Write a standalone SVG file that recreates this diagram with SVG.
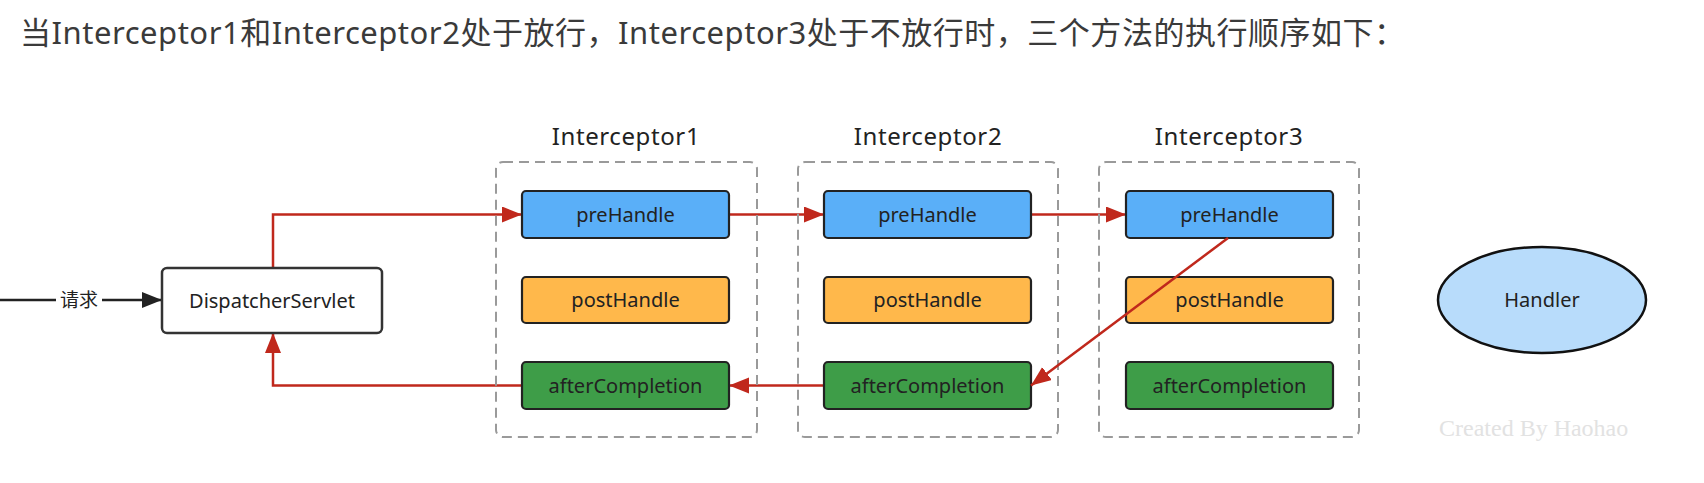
<svg xmlns="http://www.w3.org/2000/svg" width="1704" height="483" viewBox="0 0 1704 483">
  <style>
    .title { font-family: "Noto Sans", "Noto Sans CJK SC", sans-serif; font-size: 31px; fill: #3a3a3a; }
    .lbl { font-family: "Noto Sans", "Noto Sans CJK SC", sans-serif; font-size: 20px; fill: #222; text-anchor: middle; }
    .grp { font-family: "Noto Sans", sans-serif; font-size: 24px; fill: #222; text-anchor: middle; letter-spacing: 0.6px; }
    .dash { fill: none; stroke: #9a9a9a; stroke-width: 2; stroke-dasharray: 10 6; }
    .box { stroke: #222; stroke-width: 2.2; }
    .pre { fill: #5aaff8; }
    .post { fill: #ffb84b; }
    .after { fill: #3e9d48; }
    .red { fill: none; stroke: #c0281c; stroke-width: 2.5; marker-end: url(#ar); }
    .blk { fill: none; stroke: #222; stroke-width: 2.5; marker-end: url(#ab); }
  </style>
  <defs>
    <marker id="ar" markerUnits="userSpaceOnUse" markerWidth="22" markerHeight="18" refX="20" refY="8" orient="auto">
      <path d="M0,0 L20,8 L0,16 Z" fill="#c0281c"/>
    </marker>
    <marker id="ab" markerUnits="userSpaceOnUse" markerWidth="22" markerHeight="18" refX="20" refY="8" orient="auto">
      <path d="M0,0 L20,8 L0,16 Z" fill="#222"/>
    </marker>
  </defs>
  <rect width="1704" height="483" fill="#fff"/>

  <text class="title" x="20" y="44" textLength="1385" lengthAdjust="spacing">当Interceptor1和Interceptor2处于放行，Interceptor3处于不放行时，三个方法的执行顺序如下：</text>

  <g id="connectors">
    <path class="blk" d="M0,300 L162,300"/>
    <rect x="56" y="288" width="46" height="24" fill="#fff"/>
    <text class="lbl" x="79" y="307" style="font-size:19px">请求</text>
    <path class="red" d="M273,268 L273,214.5 L522,214.5"/>
    <path class="red" d="M729,214.5 L824,214.5"/>
    <path class="red" d="M1031,214.5 L1126,214.5"/>
    <path class="red" d="M824,385.5 L729,385.5"/>
    <path class="red" d="M522,385.5 L273,385.5 L273,333"/>
  </g>

  <g id="dispatcher">
    <rect x="162" y="268" width="220" height="65" rx="5" fill="#fff" stroke="#333" stroke-width="2.5"/>
    <text class="lbl" x="272" y="308">DispatcherServlet</text>
  </g>

  <g id="interceptor1">
    <text class="grp" x="626" y="145">Interceptor1</text>
    <rect class="dash" x="496" y="162" width="261" height="275" rx="7"/>
    <rect class="box pre" x="522" y="191" width="207" height="47" rx="4"/>
    <text class="lbl" x="625.5" y="221.5">preHandle</text>
    <rect class="box post" x="522" y="277" width="207" height="46" rx="4"/>
    <text class="lbl" x="625.5" y="307">postHandle</text>
    <rect class="box after" x="522" y="362" width="207" height="47" rx="4"/>
    <text class="lbl" x="625.5" y="392.5">afterCompletion</text>
  </g>

  <g id="interceptor2">
    <text class="grp" x="928" y="145">Interceptor2</text>
    <rect class="dash" x="798" y="162" width="260" height="275" rx="7"/>
    <rect class="box pre" x="824" y="191" width="207" height="47" rx="4"/>
    <text class="lbl" x="927.5" y="221.5">preHandle</text>
    <rect class="box post" x="824" y="277" width="207" height="46" rx="4"/>
    <text class="lbl" x="927.5" y="307">postHandle</text>
    <rect class="box after" x="824" y="362" width="207" height="47" rx="4"/>
    <text class="lbl" x="927.5" y="392.5">afterCompletion</text>
  </g>

  <g id="interceptor3">
    <text class="grp" x="1229" y="145">Interceptor3</text>
    <rect class="dash" x="1099" y="162" width="260" height="275" rx="7"/>
    <rect class="box pre" x="1126" y="191" width="207" height="47" rx="4"/>
    <text class="lbl" x="1229.5" y="221.5">preHandle</text>
    <rect class="box post" x="1126" y="277" width="207" height="46" rx="4"/>
    <text class="lbl" x="1229.5" y="307">postHandle</text>
    <rect class="box after" x="1126" y="362" width="207" height="47" rx="4"/>
    <text class="lbl" x="1229.5" y="392.5">afterCompletion</text>
  </g>

  <g id="return-connector">
    <path class="red" d="M1228,238 L1031,385.5"/>
  </g>

  <g id="handler">
    <ellipse cx="1542" cy="300" rx="104" ry="53" fill="#b8dcfb" stroke="#111" stroke-width="2.5"/>
    <text class="lbl" x="1542" y="307">Handler</text>
  </g>

  <text x="1439" y="436" font-family="Liberation Serif, serif" font-size="24" fill="#e2e2e2">Created By Haohao</text>
</svg>
